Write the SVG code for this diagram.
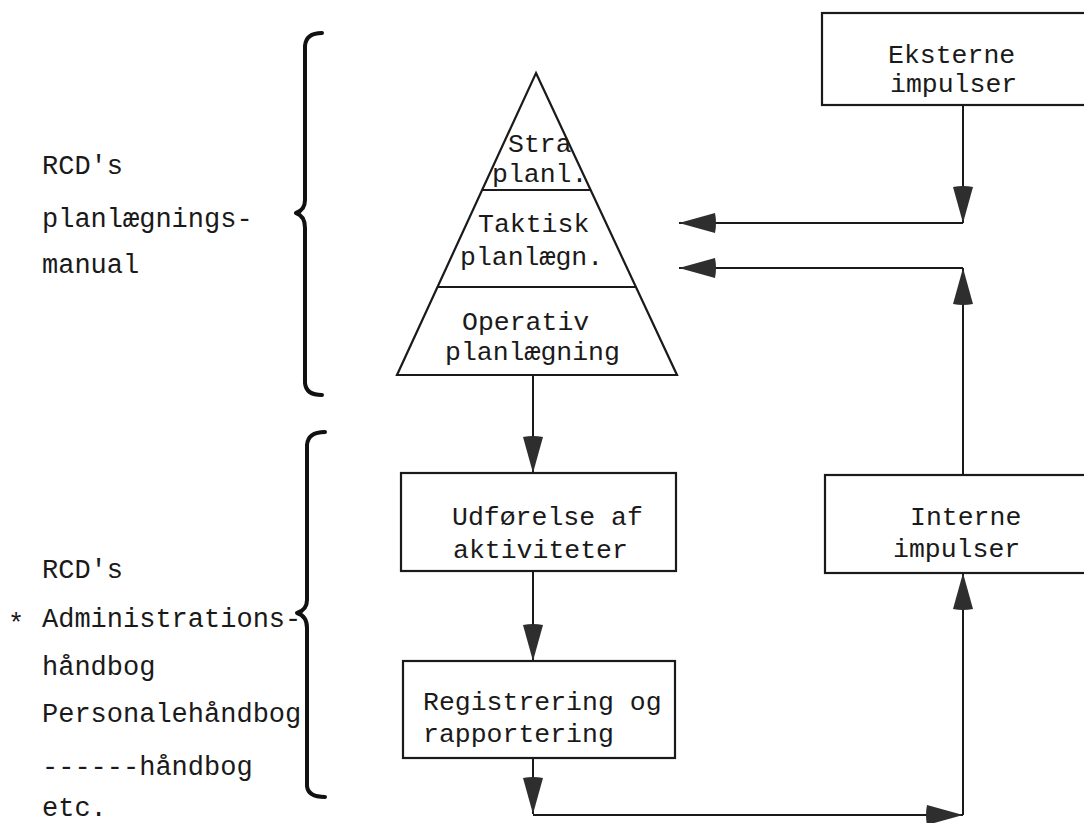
<svg xmlns="http://www.w3.org/2000/svg" width="1084" height="823" viewBox="0 0 1084 823">
  <style>
    .txt { font-family: "Liberation Mono", "DejaVu Sans Mono", monospace; font-size: 26.5px; fill: #1a1a1a; }
    .side { font-size: 27px; }
    .box { fill: none; stroke: #1a1a1a; stroke-width: 2.2; }
    .conn { fill: none; stroke: #1a1a1a; stroke-width: 2; }
    .brace { fill: none; stroke: #111; stroke-width: 4; stroke-linecap: round; stroke-linejoin: round; }
  </style>
  <defs>
    <marker id="head" viewBox="-2 -12 40 24" markerWidth="40" markerHeight="24" refX="36" refY="0" orient="auto" markerUnits="userSpaceOnUse">
      <path d="M0,-10 Q-2,0 0,10 L36,0 Z" fill="#2e2e2e"/>
    </marker>
  </defs>
  <rect width="1084" height="823" fill="#ffffff"/>

  <!-- side labels and braces -->
  <g id="planning-manual">
    <text class="txt side" x="42" y="174">RCD's</text>
    <text class="txt side" x="42" y="227">planlægnings-</text>
    <text class="txt side" x="42" y="273">manual</text>
    <path class="brace" d="M322,33 Q306,33 305,46 V200 Q305,210 296,213 Q305,216 305,228 V383 Q306,395 322,395"/>
  </g>
  <g id="handbooks">
    <text class="txt side" x="42" y="578">RCD's</text>
    <text class="txt side" x="8" y="632">*</text>
    <text class="txt side" x="42" y="627">Administrations-</text>
    <text class="txt side" x="42" y="675">håndbog</text>
    <text class="txt side" x="42" y="722">Personalehåndbog</text>
    <text class="txt side" x="42" y="775">------håndbog</text>
    <text class="txt side" x="42" y="816">etc.</text>
    <path class="brace" d="M325,432 Q308,432 307,445 V600 Q307,610 297,613 Q307,616 307,628 V786 Q308,797 325,797"/>
  </g>

  <!-- planning pyramid -->
  <g id="pyramid">
    <polygon class="box" points="536,73 677,375 397,375"/>
    <line class="box" x1="482" y1="190" x2="591" y2="190"/>
    <line class="box" x1="437" y1="287" x2="636" y2="287"/>
    <text class="txt" x="508" y="152">Stra</text>
    <text class="txt" x="492" y="182">planl.</text>
    <text class="txt" x="478" y="232">Taktisk</text>
    <text class="txt" x="460" y="265">planlægn.</text>
    <text class="txt" x="462" y="330">Operativ</text>
    <text class="txt" x="445" y="360">planlægning</text>
  </g>

  <g id="eksterne">
    <rect class="box" x="822" y="13" width="270" height="92"/>
    <text class="txt" x="888" y="63">Eksterne</text>
    <text class="txt" x="890" y="92">impulser</text>
  </g>

  <g id="udforelse">
    <rect class="box" x="401" y="473" width="275" height="98"/>
    <text class="txt" x="452" y="525">Udførelse af</text>
    <text class="txt" x="453" y="558">aktiviteter</text>
  </g>

  <g id="interne">
    <rect class="box" x="825" y="475" width="270" height="98"/>
    <text class="txt" x="910" y="525">Interne</text>
    <text class="txt" x="893" y="557">impulser</text>
  </g>

  <g id="registrering">
    <rect class="box" x="403" y="661" width="272" height="97"/>
    <text class="txt" x="423" y="710">Registrering og</text>
    <text class="txt" x="423" y="742">rapportering</text>
  </g>

  <!-- connectors -->
  <g id="connectors">
    <path class="conn" d="M963,105 V223" marker-end="url(#head)"/>
    <path class="conn" d="M963,223 H679" marker-end="url(#head)"/>
    <path class="conn" d="M963,475 V268" marker-end="url(#head)"/>
    <path class="conn" d="M963,268 H679" marker-end="url(#head)"/>
    <path class="conn" d="M533,375 V473" marker-end="url(#head)"/>
    <path class="conn" d="M533,571 V661" marker-end="url(#head)"/>
    <path class="conn" d="M533,758 V814" marker-end="url(#head)"/>
    <path class="conn" d="M533,815 H963" marker-end="url(#head)"/>
    <path class="conn" d="M963,815 V573" marker-end="url(#head)"/>
  </g>
</svg>
